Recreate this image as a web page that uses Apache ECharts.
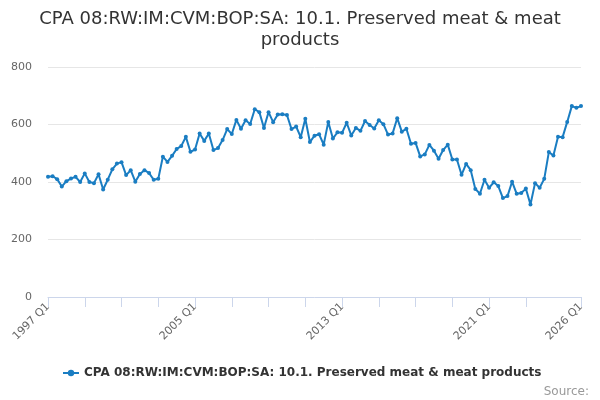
<!DOCTYPE html>
<html>
<head>
<meta charset="utf-8">
<script src="https://cdn.jsdelivr.net/npm/echarts@6/dist/echarts.min.js"></script>
<style>
    html, body { margin: 0; padding: 0; background: #fff; }
    #main { width: 600px; height: 400px; }
</style>
</head>
<body>
<div id="main"></div>
<script>
const titleText = 'CPA 08:RW:IM:CVM:BOP:SA: 10.1. Preserved meat & meat\nproducts'
const seriesName = 'CPA 08:RW:IM:CVM:BOP:SA: 10.1. Preserved meat & meat products'

// quarters 1997 Q1 .. 2026 Q1
const quarters = []
for (let y = 1997; y <= 2026; y++) {
    for (let q = 1; q <= 4; q++) {
        if (y === 2026 && q > 1) break
        quarters.push(y + ' Q' + q)
    }
}

const values = [
    418, 420, 410, 384, 403, 412, 418, 400, 430, 400,
    396, 427, 374, 408, 444, 464, 469, 424, 441, 401,
    428, 441, 431, 408, 411, 488, 470, 491, 515, 525,
    557, 505, 513, 569, 543, 569, 511, 518, 546, 584,
    567, 616, 585, 615, 602, 653, 643, 588, 643, 608,
    635, 636, 633, 584, 593, 556, 620, 539, 561, 566,
    530, 609, 551, 573, 571, 606, 562, 588, 578, 612,
    598, 586, 615, 601, 565, 569, 622, 575, 585, 533,
    536, 489, 496, 529, 509, 481, 511, 530, 478, 478,
    425, 463, 441, 376, 359, 408, 380, 399, 386, 344,
    351, 401, 359, 362, 377, 322, 396, 380, 411, 504,
    492, 557, 556, 609, 664, 658, 664,
]

const yTicks = [0, 200, 400, 600, 800]
const lastIdx = quarters.length - 1

const chart = echarts.init(document.getElementById('main'))
chart.setOption({
    animation: false,
    textStyle: { fontFamily: 'DejaVu Sans' },
    title: [
        {
            text: titleText,
            left: 'center',
            top: 4,
            textStyle: {
                fontFamily: 'DejaVu Sans',
                fontSize: 18,
                fontWeight: 'normal',
                color: '#333',
                lineHeight: 21,
            },
        },
        {
            text: 'Source:',
            right: 6,
            top: 381,
            textStyle: {
                fontFamily: 'DejaVu Sans',
                fontSize: 12,
                fontWeight: 'normal',
                color: '#999',
            },
        },
    ],
    legend: {
        bottom: 16,
        left: 57,
        itemWidth: 16,
        itemHeight: 8,
        textStyle: {
            fontFamily: 'DejaVu Sans',
            fontSize: 12,
            fontWeight: 'bold',
            color: '#333',
        },
    },
    grid: {
        left: 48,
        right: 19,
        top: 67,
        bottom: 103,
    },
    xAxis: {
        type: 'category',
        data: quarters,
        boundaryGap: false,
        axisLine: { lineStyle: { color: '#ccd6eb' } },
        axisTick: {
            length: 10,
            lineStyle: { color: '#ccd6eb' },
            interval: (i) => (i % 8 === 0 && i <= 104) || i === lastIdx,
        },
        axisLabel: {
            rotate: 45,
            color: '#666',
            fontSize: 11,
            margin: 8,
            interval: (i) => i % 32 === 0 || i === lastIdx,
        },
        splitLine: { show: false },
    },
    yAxis: {
        type: 'value',
        min: yTicks[0],
        max: yTicks[yTicks.length - 1],
        interval: 200,
        axisLine: { show: false },
        axisTick: { show: false },
        axisLabel: { color: '#666', fontSize: 11, margin: 16 },
        splitLine: { lineStyle: { color: '#e6e6e6' } },
    },
    series: [
        {
            name: seriesName,
            type: 'line',
            data: values,
            symbol: 'circle',
            symbolSize: 4,
            showSymbol: true,
            showAllSymbol: true,
            color: '#1a7dc2',
            lineStyle: { width: 2, color: '#1a7dc2' },
            itemStyle: { color: '#1a7dc2' },
        },
    ],
})
</script>
</body>
</html>
